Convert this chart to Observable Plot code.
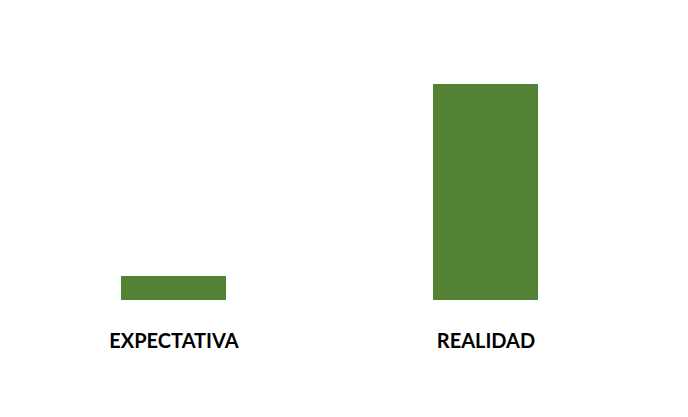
<!DOCTYPE html>
<html>
<head>
<meta charset="utf-8">
<script src="https://cdn.jsdelivr.net/npm/d3@7"></script>
<script src="https://cdn.jsdelivr.net/npm/@observablehq/plot@0.6"></script>
<style>
  html, body { margin: 0; padding: 0; background: #fff; }
</style>
</head>
<body>
<div id="chart"></div>
<script>
const categories = ["EXPECTATIVA", "REALIDAD"];
const values = [1, 9];

const data = categories.map((c, i) => ({category: c, value: values[i]}));

const chart = Plot.plot({
  width: 688,
  height: 417,
  marginTop: 84,
  marginBottom: 117,
  marginLeft: 27.4,
  marginRight: 56.4,
  style: {fontFamily: "Lato, sans-serif", background: "#fff"},
  x: {
    domain: categories,
    padding: 0.6635,
    paddingOuter: 0.3,
    label: null,
    tickSize: 0,
    tickPadding: 33
  },
  y: {domain: [0, 9], axis: null},
  marks: [
    Plot.barY(data, {x: "category", y: "value", fill: "#548235"}),
    Plot.axisX({
      domain: categories,
      tickSize: 0,
      tickPadding: 33,
      fontSize: 20,
      fontWeight: "bold",
      fill: "#000",
      label: null
    })
  ]
});
document.getElementById("chart").appendChild(chart);
</script>
</body>
</html>
